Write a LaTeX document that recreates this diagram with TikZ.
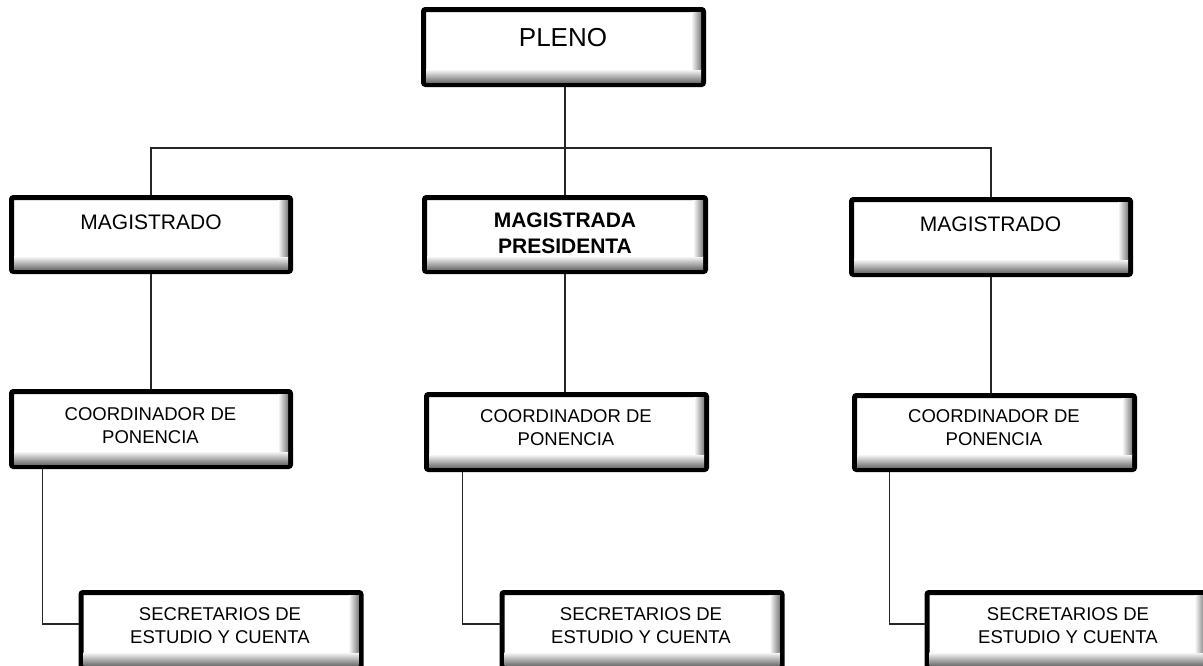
\documentclass[tikz,border=0pt]{standalone}
\usepackage{fontspec}
\setmainfont{Liberation Sans}
\begin{document}
\begin{tikzpicture}[x=1pt,y=-1pt,
  orgbox/.style={draw=black, line width=5pt, fill=white, rounded corners=2pt,
    minimum width=280pt, minimum height=75pt, inner sep=0pt},
  conn/.style={line width=1.2pt, draw=black!85},
  tbig/.style={inner sep=0pt, align=center, font=\fontsize{26}{30}\selectfont},
  tmid/.style={inner sep=0pt, align=center, font=\fontsize{21}{26.5}\selectfont},
  tsmall/.style={inner sep=0pt, align=center, font=\fontsize{18.5}{23}\selectfont}
]
\useasboundingbox (0,0) rectangle (1203,665);
\clip (0,0) rectangle (1203,665);

% boxes
\node[orgbox] (pleno)  at (563.5,47) {};
\node[orgbox, minimum width=279pt, minimum height=74pt] (magl) at (151,234.5) {};
\node[orgbox, minimum width=281pt, minimum height=74pt] (magp) at (565,234.5) {};
\node[orgbox, minimum width=279pt] (magr) at (991,237) {};
\node[orgbox, minimum width=279pt] (coordl) at (151,429) {};
\node[orgbox] (coordm) at (566.5,432) {};
\node[orgbox, minimum height=74pt] (coordr) at (994.5,432.5) {};
\node[orgbox] (secl) at (221,630) {};
\node[orgbox] (secm) at (642,630) {};
\node[orgbox] (secr) at (1067,630) {};

% inner shadow gradients (anchors sit on the outer edge of the 5pt border)
\foreach \n in {pleno,magl,magp,magr,coordl,coordm,coordr,secl,secm,secr}{
  \shade[top color=white, bottom color=black!55]
    ([xshift=5pt,yshift=18pt]\n.south west) rectangle ([xshift=-5pt,yshift=5pt]\n.south east);
  \shade[left color=white, right color=black!50]
    ([xshift=-15pt,yshift=-5pt]\n.north east) rectangle ([xshift=-5pt,yshift=18pt]\n.south east);
}

% texts
\node[tbig] (plenot) at (563,37.5) {PLENO};
\node[tmid] (maglt) at (151,222) {MAGISTRADO};
\node[tmid, font=\fontsize{21}{26.5}\selectfont\bfseries] (magpt) at (565,233.3) {MAGISTRADA\\PRESIDENTA};
\node[tmid] (magrt) at (990.5,224) {MAGISTRADO};
\node[tsmall] (coordlt) at (150.5,425.5) {COORDINADOR DE\\PONENCIA};
\node[tsmall] (coordmt) at (566,428) {COORDINADOR DE\\PONENCIA};
\node[tsmall] (coordrt) at (994,428) {COORDINADOR DE\\PONENCIA};
\node[tsmall] (seclt) at (220,625.5) {SECRETARIOS DE\\ESTUDIO Y CUENTA};
\node[tsmall] (secmt) at (641,625.5) {SECRETARIOS DE\\ESTUDIO Y CUENTA};
\node[tsmall] (secrt) at (1068,625.5) {SECRETARIOS DE\\ESTUDIO Y CUENTA};

% connectors
\coordinate (bar) at (0,148);
\draw[conn] ([xshift=1.5pt]pleno.south) -- (magp.north);
\draw[conn] (magl.north) -- (magl.north |- bar) -- (magr.north |- bar) -- (magr.north);
\draw[conn] (magl.south) -- (coordl.north);
\draw[conn] (magp.south) -- (magp.south |- coordm.north);
\draw[conn] (magr.south) -- (magr.south |- coordr.north);
\draw[conn] ([xshift=33.5pt]coordl.south west) |- ([yshift=6pt]secl.west);
\draw[conn] ([xshift=38.5pt]coordm.south west) |- ([yshift=6pt]secm.west);
\draw[conn] ([xshift=37.5pt]coordr.south west) |- ([yshift=6pt]secr.west);
\end{tikzpicture}
\end{document}
